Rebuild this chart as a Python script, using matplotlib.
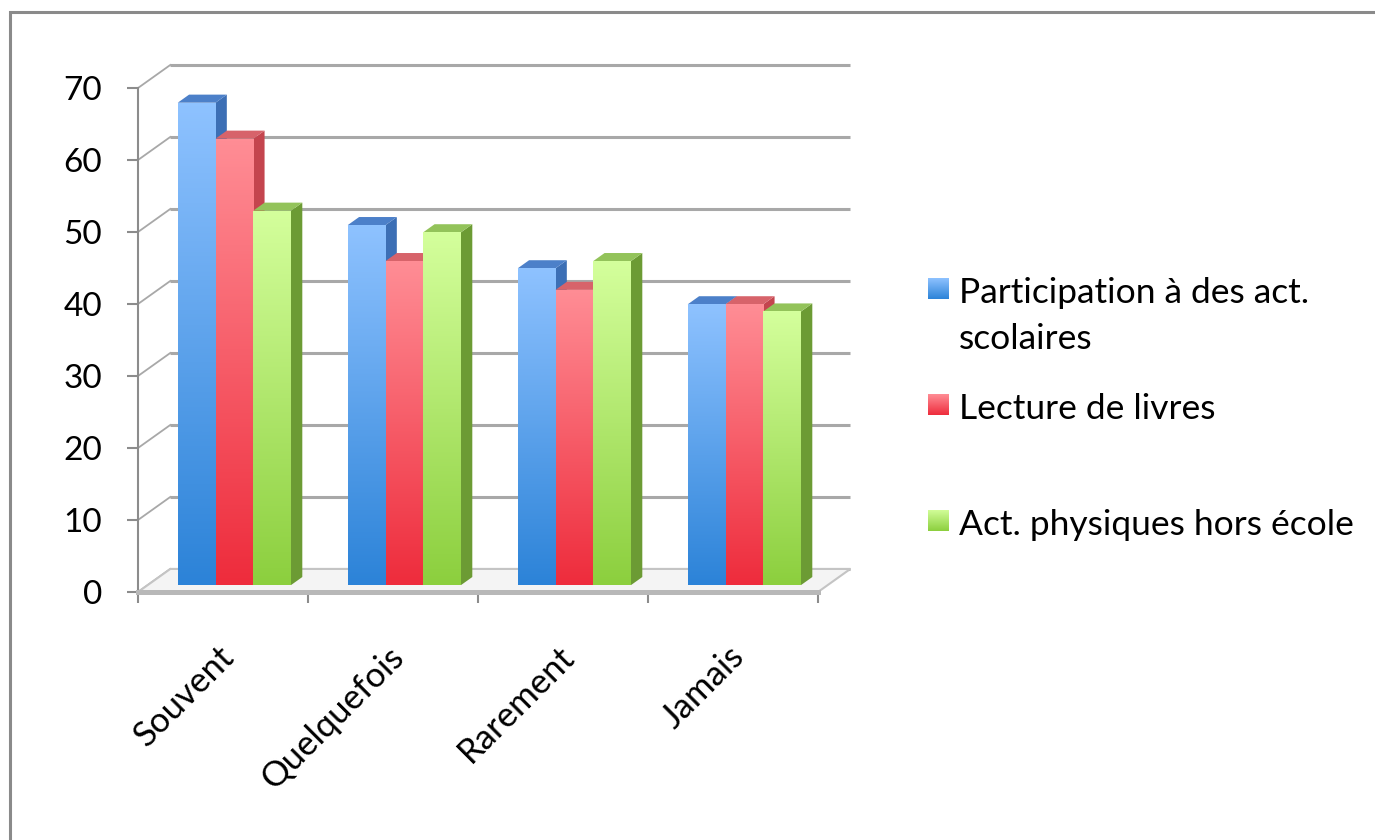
import numpy as np
import matplotlib.pyplot as plt
from matplotlib.colors import LinearSegmentedColormap
from matplotlib.patches import Polygon, Rectangle

categories = ["Souvent", "Quelquefois", "Rarement", "Jamais"]
series = ["Participation à des act.\nscolaires", "Lecture de livres", "Act. physiques hors école"]
participation = [67, 50, 44, 39]
lecture = [62, 45, 41, 39]
physiques = [52, 49, 45, 38]
yticks = [0, 10, 20, 30, 40, 50, 60, 70]

# face colours per series
front_top = ["#8ec2ff", "#ff8d95", "#d4ff9c"]
front_bot = ["#2c83d8", "#ee2c3c", "#8ccf3e"]
side_col = ["#3c6fb5", "#c4454e", "#6c9b34"]
cap_col = ["#4c80c9", "#d7636a", "#93c35a"]

plt.rcParams['font.family'] = ['Lato', 'DejaVu Sans']

W_PX, H_PX = 1375, 840
fig = plt.figure(figsize=(W_PX / 100, H_PX / 100), dpi=100)
ax = fig.add_axes([138 / W_PX, 1 - 610 / H_PX, 720 / W_PX, 555 / H_PX])

DX, DY = 0.19, 3.2      # depth of the 3d box (data units)
F0, F1 = 0.3, 0.65      # bar front / back depth fraction
W = 0.222               # bar width
grid_c = "#a8a8a8"

# back wall and left wall
for v in yticks:
    ax.plot([DX, 4 + DX], [v + DY, v + DY], color=grid_c, lw=2.2, zorder=1, solid_capstyle='butt')
    ax.plot([0, DX], [v, v + DY], color=grid_c, lw=1.3, zorder=1)

# floor
floor = Polygon([(0, 0), (4, 0), (4 + DX, DY), (DX, DY)], closed=True,
                fc="#f4f4f4", ec="#c4c4c4", lw=1.5, zorder=2)
ax.add_patch(floor)

grad = np.linspace(0, 1, 128).reshape(-1, 1)
cmaps = [LinearSegmentedColormap.from_list("s%d" % j, [front_bot[j], front_top[j]]) for j in range(3)]

values = [participation, lecture, physiques]
sdx = (F1 - F0) * DX
sdy = (F1 - F0) * DY
base = F0 * DY
for j, vals in enumerate(values):
    z = 3 + j * 3
    xs = [i + 0.5 - 1.5 * W + j * W + F0 * DX + 0.01 for i in range(len(categories))]
    bars = ax.bar(xs, vals, W, bottom=base, align='edge', color=front_bot[j], lw=0, zorder=z + 1)
    for p in bars:
        x0, y0, w, h = p.get_x(), p.get_y(), p.get_width(), p.get_height()
        side = Polygon([(x0 + w, y0), (x0 + w + sdx, y0 + sdy), (x0 + w + sdx, y0 + h + sdy), (x0 + w, y0 + h)],
                       closed=True, fc=side_col[j], ec='none', zorder=z)
        top = Polygon([(x0, y0 + h), (x0 + sdx, y0 + h + sdy), (x0 + w + sdx, y0 + h + sdy), (x0 + w, y0 + h)],
                      closed=True, fc=cap_col[j], ec='none', zorder=z)
        ax.add_patch(side)
        ax.add_patch(top)
        im = ax.imshow(grad, cmap=cmaps[j], extent=[x0, x0 + w, y0, y0 + h], origin='lower',
                       aspect='auto', interpolation='bilinear', zorder=z + 2)
        im.set_clip_path(p)

ax.set_xlim(0, 720 / 170)
ax.set_ylim(-18 / 7.2, 537 / 7.2)

for s in ['top', 'right']:
    ax.spines[s].set_visible(False)
ax.spines['left'].set_bounds(0, 70)
ax.spines['left'].set_color('#8c8c8c')
ax.spines['left'].set_linewidth(1.5)
ax.spines['bottom'].set_position(('data', 0))
ax.spines['bottom'].set_bounds(0, 4)
ax.spines['bottom'].set_color('#b8b8b8')
ax.spines['bottom'].set_linewidth(3.6)
ax.spines['bottom'].set_zorder(2.5)

ax.set_yticks(yticks)
ax.tick_params(axis='y', length=8, width=1.5, color='#8c8c8c', pad=18, labelsize=24)
ax.set_xticks([0, 1, 2, 3, 4])
ax.set_xticklabels([])
ax.tick_params(axis='x', length=8, width=1.5, color='#8c8c8c')

for i, c in enumerate(categories):
    ax.text(i + 0.47, -6.7, c, rotation=45, rotation_mode='anchor', ha='right', va='top',
            fontsize=25, clip_on=False)

# legend (first-line baselines in px, 46 px per line)
leg_top = [278, 394, 510]
for j, lab in enumerate(series):
    lax = fig.add_axes([928 / W_PX, 1 - (leg_top[j] + 21) / H_PX, 21 / W_PX, 21 / H_PX])
    lax.imshow(grad, cmap=cmaps[j], origin='lower', aspect='auto')
    lax.axis('off')
    base_px = leg_top[j] + 25 + lab.count('\n') * 46
    fig.text(959 / W_PX, 1 - base_px / H_PX, lab, fontsize=25.5, va='baseline', linespacing=1.55)

# outer frame
fig.patches.append(Rectangle((10 / W_PX, -0.1), 1.2, 1.1 - 12 / H_PX, transform=fig.transFigure,
                             fill=False, ec='#8a8a8a', lw=2.2))

fig.savefig('out.png', dpi=100)
